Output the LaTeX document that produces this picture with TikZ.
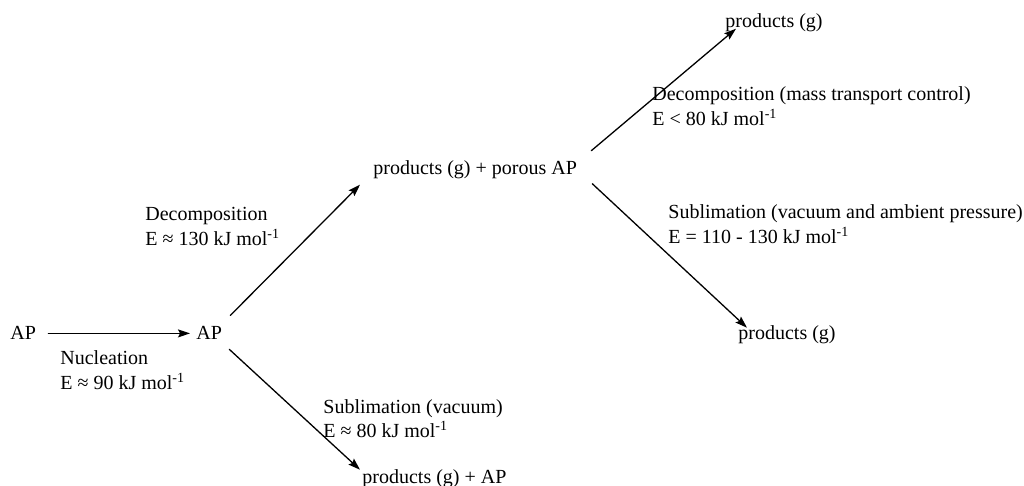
\documentclass[tikz,border=0pt]{standalone}
\usepackage{fontspec}
\setmainfont{Liberation Serif}
\usetikzlibrary{arrows.meta}
\begin{document}
\begin{tikzpicture}[x=0.5pt,y=-0.5pt,>={Stealth[length=6pt,width=4pt,inset=1pt]},line join=round,line cap=round,font=\fontsize{10}{12.5}\selectfont,
	txt/.style={inner sep=0pt,anchor=base west},
	lbl/.style={inner sep=0pt,anchor=base west,align=left}]
	\useasboundingbox (0,0) rectangle (1024,486);
	% species
	\node[txt] (ap0) at (10,340) {AP};
	\node[txt] (ap1) at (196,340) {AP};
	\node[txt] (porous) at (373,175) {products (g) + porous AP};
	\node[txt] (gtop) at (725,28) {products (g)};
	\node[txt] (gright) at (738,340) {products (g)};
	\node[txt] (gbot) at (362,484) {products (g) + AP};
	% steps
	\draw[->,line width=0.65pt] ([xshift=6pt]ap0.east) -- ([xshift=-3pt]ap1.west);
	\draw[->,line width=0.65pt] ([xshift=4pt,yshift=5.5pt]ap1.north east) -- ([xshift=-6.5pt,yshift=-2.5pt]porous.south west);
	\draw[->,line width=0.65pt] ([xshift=7pt,yshift=5pt]porous.north east) -- ([xshift=5.5pt,yshift=2pt]gtop.south west);
	\draw[->,line width=0.65pt] ([xshift=7.5pt,yshift=-2pt]porous.south east) -- ([xshift=4.5pt,yshift=-1pt]gright.north west);
	\draw[->,line width=0.65pt] ([xshift=3.5pt,yshift=-4.5pt]ap1.south east) -- ([xshift=-1pt]gbot.north west);
	% labels (base = last line)
	\node[lbl] (nuc) at (60,390) {Nucleation\\E ≈ 90 kJ mol\textsuperscript{-1}};
	\node[lbl] (dec) at (145,246) {Decomposition\\E ≈ 130 kJ mol\textsuperscript{-1}};
	\node[lbl] (decm) at (652,126) {Decomposition (mass transport control)\\E < 80 kJ mol\textsuperscript{-1}};
	\node[lbl] (sublm) at (668,244) {Sublimation (vacuum and ambient pressure)\\E = 110 - 130 kJ mol\textsuperscript{-1}};
	\node[lbl] (subv) at (323,438) {Sublimation (vacuum)\\E ≈ 80 kJ mol\textsuperscript{-1}};
\end{tikzpicture}
\end{document}
